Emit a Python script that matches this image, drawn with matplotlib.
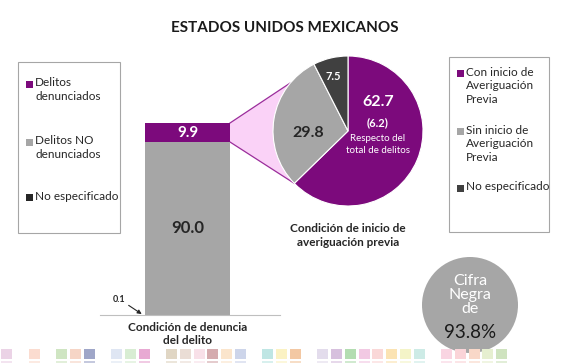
import numpy as np
import matplotlib
matplotlib.use("Agg")
import matplotlib.pyplot as plt
from matplotlib.patches import Rectangle, Polygon, Circle

plt.rcParams['font.family'] = ['Lato', 'DejaVu Sans']

# data
bar_category = 'Condición de denuncia\ndel delito'
bar_labels = ['No especificado', 'Delitos NO\ndenunciados', 'Delitos\ndenunciados']
bar_values = [0.1, 90.0, 9.9]
bar_colors = ['#262626', '#A6A6A6', '#7C0A7C']

pie_title = 'Condición de inicio de\naveriguación previa'
pie_labels = ['Con inicio de\nAveriguación\nPrevia', 'Sin inicio de\nAveriguación\nPrevia', 'No especificado']
pie_values = [62.7, 29.8, 7.5]
pie_colors = ['#7C0A7C', '#A6A6A6', '#404040']
share_of_total = 6.2
cifra_negra = 93.8

tile_colors = ['#EBD3E6', None, '#FBDCD0', None, '#CFE5C2', '#F6D5C6', '#9FA6C8', None,
               '#DFE6F3', '#D8EDD3', '#E8A9D3', None, '#E0D6C4', '#EADDD5', '#F8E0E8',
               '#D5ABAE', '#FBE5CC', '#CDD5EA', None, '#BFE6E4', '#FBF2C3', '#F3C8A3', None,
               '#E3DCEC', '#D7C0DE', '#B3DDB1', '#F2C9E3', '#FAD8D8', '#FBE3B3', '#F4F4C8',
               '#CDEBE6', None, '#F9D5E2', '#FAD4D8', '#F9D8C8', '#E6EFD0', '#CFE3BF']

W, H = 570, 363
fig = plt.figure(figsize=(W / 100, H / 100), dpi=100)
fig.patch.set_facecolor('white')


def frac(left, top, width, height):
    # pixel box -> figure fraction
    return [left / W, (H - top - height) / H, width / W, height / H]


# overlay in pixel coordinates for decoration / legends
ax0 = fig.add_axes([0, 0, 1, 1], zorder=0)
ax0.set_xlim(0, W)
ax0.set_ylim(H, 0)
ax0.axis('off')

ax0.text(285, 28, 'ESTADOS UNIDOS MEXICANOS', ha='center', va='center',
         fontsize=11, fontweight='bold', color='#1a1a1a')

# stacked bar
axb = fig.add_axes(frac(100, 123, 180, 192), zorder=1)
axb.patch.set_visible(False)
bottom = 0
for v, c in zip(bar_values, bar_colors):
    axb.bar(0, v, width=0.8, bottom=bottom, color=c)
    bottom += v
axb.set_ylim(0, sum(bar_values))
axb.set_xlim(-0.8235, 0.8706)
for s in ['top', 'right', 'left']:
    axb.spines[s].set_visible(False)
axb.spines['bottom'].set_color('#BFBFBF')
axb.set_yticks([])
axb.set_xticks([0])
axb.set_xticklabels([bar_category], fontsize=8.5, fontweight='bold', color='#262626')
axb.tick_params(axis='x', length=0, pad=5)
axb.text(0, bar_values[0] + bar_values[1] / 2, f'{bar_values[1]:.1f}', ha='center',
         va='center', fontsize=12, fontweight='bold', color='#262626')
axb.text(0, bar_values[0] + bar_values[1] + bar_values[2] / 2, f'{bar_values[2]:.1f}',
         ha='center', va='center', fontsize=11, fontweight='bold', color='white')
axb.annotate(f'{bar_values[0]:.1f}', xy=(-0.42, bar_values[0]), xytext=(-17, 11),
             textcoords='offset pixels', fontsize=6.5, fontweight='bold',
             ha='right', va='bottom', color='#262626',
             arrowprops=dict(arrowstyle='-|>', color='#262626', lw=0.8,
                             mutation_scale=6, shrinkA=0, shrinkB=1))

# pie
axp = fig.add_axes(frac(273, 56, 150, 150), zorder=1)
axp.pie(pie_values, colors=pie_colors, startangle=90, counterclock=False,
        wedgeprops=dict(linewidth=0.8, edgecolor='white'))
axp.set_xlim(-1, 1)
axp.set_ylim(-1, 1)
axp.apply_aspect()

axp.text(0.40, 0.39, f'{pie_values[0]:.1f}', ha='center', va='center',
         fontsize=11.5, fontweight='bold', color='white')
axp.text(0.40, 0.11, f'({share_of_total:.1f})', ha='center', va='center',
         fontsize=8, fontweight='bold', color='white')
axp.text(0.40, -0.18, 'Respecto del\ntotal de delitos', ha='center', va='center',
         fontsize=7, color='white', linespacing=1.3)
axp.text(-0.53, -0.03, f'{pie_values[1]:.1f}', ha='center', va='center',
         fontsize=11.5, fontweight='bold', color='#262626')
axp.text(-0.19, 0.72, f'{pie_values[2]:.1f}', ha='center', va='center',
         fontsize=8, fontweight='bold', color='white')
axp.text(0, -1.22, pie_title, ha='center', va='top', fontsize=8.5,
         fontweight='bold', color='#262626', linespacing=1.35)

# pink connector between bar top segment and pie
to_px = ax0.transData.inverted()
top_total = sum(bar_values)
p_top = to_px.transform(axb.transData.transform((0.4, top_total)))
p_bot = to_px.transform(axb.transData.transform((0.4, top_total - bar_values[2])))
a_low = 90 - 360 * pie_values[0] / 100
arc = np.linspace(140, a_low + 360, 40)
arc_pts = to_px.transform(axp.transData.transform(
    np.column_stack([np.cos(np.deg2rad(arc)), np.sin(np.deg2rad(arc))])))
poly_pts = np.vstack([p_top, arc_pts, p_bot])
ax0.add_patch(Polygon(poly_pts, closed=True, facecolor='#FAD2F7', edgecolor='none'))
ax0.plot([p_top[0], arc_pts[0, 0]], [p_top[1], arc_pts[0, 1]], color='#9B2D9B', lw=0.9)
ax0.plot([p_bot[0], arc_pts[-1, 0]], [p_bot[1], arc_pts[-1, 1]], color='#9B2D9B', lw=0.9)


def legend_box(x, y, w, h, labels, colors, rows):
    ax0.add_patch(Rectangle((x, y), w, h, facecolor='white', edgecolor='#A6A6A6', lw=0.8))
    for lab, c, ry in zip(labels, colors, rows):
        ax0.add_patch(Rectangle((x + 8, ry - 3.5), 7, 7, facecolor=c, edgecolor='none'))
        ax0.text(x + 17, ry - 6.5, lab, ha='left', va='top', fontsize=8.5,
                 color='#262626', linespacing=1.3)


legend_box(18, 62, 102, 171, bar_labels[::-1], bar_colors[::-1], [84, 142, 197])
legend_box(449, 57, 100, 175, pie_labels, pie_colors, [73, 131, 188])

# cifra negra circle
ax0.add_patch(Circle((470, 305), 48, facecolor='#A6A6A6', edgecolor='none'))
ax0.text(470, 295, 'Cifra\nNegra\nde', ha='center', va='center', fontsize=11.5,
         color='white', linespacing=1.0)
ax0.text(470, 332, f'{cifra_negra:.1f}%', ha='center', va='center', fontsize=13.5,
         color='#1a1a1a')

# decorative tile strip
for i, c in enumerate(tile_colors):
    if c is None:
        continue
    ax0.add_patch(Rectangle((i * 13.75 + 1, 349), 11, 10, facecolor=c, edgecolor='none'))
    ax0.add_patch(Rectangle((i * 13.75 + 1, 361), 11, 4, facecolor=c, edgecolor='none',
                            alpha=0.6))

fig.savefig('out.png', dpi=100)
